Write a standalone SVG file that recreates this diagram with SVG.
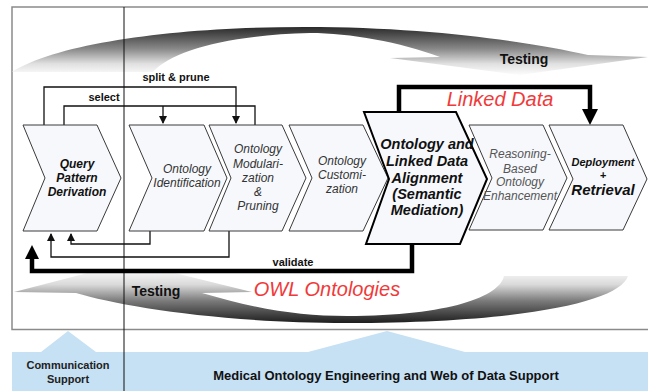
<svg xmlns="http://www.w3.org/2000/svg" width="648" height="391" viewBox="0 0 648 391">
<style>
text{font-family:"Liberation Sans",Arial,sans-serif}
.chev{fill:#f6f8fc;stroke:#3a3a3a;stroke-width:1}
.big{fill:#f6f8fc;stroke:#000;stroke-width:2}
.it{font-style:italic;font-size:12px;fill:#333;text-anchor:middle}
.bi{font-style:italic;font-weight:bold;fill:#111;text-anchor:middle}
.lbl{font-size:11px;font-weight:bold;fill:#111;text-anchor:middle}
.red{font-style:italic;font-size:20px;fill:#f03a3a;text-anchor:middle}
.thin{fill:none;stroke:#111;stroke-width:1.3}
.thick{fill:none;stroke:#000;stroke-width:4.5}
</style>
<defs>
<linearGradient id="gTop" gradientUnits="userSpaceOnUse" x1="0" y1="27" x2="0" y2="76">
<stop offset="0" stop-color="#2a2a2a"/>
<stop offset="0.45" stop-color="#8a8a8a"/>
<stop offset="0.75" stop-color="#e0e0e0"/>
<stop offset="1" stop-color="#ffffff"/>
</linearGradient>
<linearGradient id="gBot" gradientUnits="userSpaceOnUse" x1="0" y1="323" x2="0" y2="268">
<stop offset="0" stop-color="#1e1e1e"/>
<stop offset="0.4" stop-color="#7a7a7a"/>
<stop offset="0.7" stop-color="#dadada"/>
<stop offset="1" stop-color="#ffffff"/>
</linearGradient>
<marker id="ah" markerWidth="8" markerHeight="8" refX="7" refY="4" orient="auto" markerUnits="userSpaceOnUse">
<path d="M0,0 L8,4 L0,8 Z" fill="#111"/>
</marker>
</defs>

<g id="support">
<path d="M12,352 H41 L68,331 L96,352 H308 L387,331 L465,352 H648 V391 H12 Z" fill="#c6e0f4"/>
<text x="68" y="369" font-size="11" font-weight="bold" fill="#222" text-anchor="middle">Communication</text>
<text x="68" y="383" font-size="11" font-weight="bold" fill="#222" text-anchor="middle">Support</text>
<text x="386" y="380" font-size="13" font-weight="bold" fill="#111" text-anchor="middle">Medical Ontology Engineering and Web of Data Support</text>
</g>

<g id="frame">
<path d="M648,7 H12 V329.5 H648" fill="none" stroke="#8a8a8a" stroke-width="1.5"/>
</g>

<g id="testing-top">
<path d="M12,72 C60,42 180,27 305,27 C430,27 530,42 588,55 L648,57 L520,75 L390,58 L440,57 C400,42 350,33 310,33 C230,35 172,50 153,72 Z" fill="url(#gTop)"/>
<text x="524" y="64" font-size="14" font-weight="bold" fill="#111" text-anchor="middle">Testing</text>
</g>

<g id="testing-bottom">
<path d="M628,276 C620,302 520,323 347,323 C220,323 120,306 76,293 L14,292 L130,262 L252,292 L202,293 C260,310 300,316 347,316 C450,316 500,296 504,276 Z" fill="url(#gBot)"/>
<text x="156" y="296" font-size="14" font-weight="bold" fill="#111" text-anchor="middle">Testing</text>
<text x="327" y="296" class="red">OWL Ontologies</text>
</g>

<line x1="124" y1="7" x2="124" y2="391" stroke="#111" stroke-width="1"/>

<g id="connectors">
<path class="thin" d="M44,125 V87 H236 V123" marker-end="url(#ah)"/>
<path class="thin" d="M64,143 V106 H255 V142" marker-end="url(#ah)"/>
<path class="thin" d="M163,106 V123" marker-end="url(#ah)"/>
<path class="thin" d="M150,231 V244 H71 V234" marker-end="url(#ah)"/>
<path class="thin" d="M229,231 V257 H51 V234" marker-end="url(#ah)"/>
<path class="thick" d="M412,244 V271 H32 V258"/>
<path d="M25,259 L32,245 L39,259 Z" fill="#000"/>
<path class="thick" d="M399,112 V87 H590 V110" stroke-width="5"/>
<path d="M582,109 L590,125 L598,109 Z" fill="#000"/>
<text x="176" y="81" class="lbl">split &amp; prune</text>
<text x="104" y="101" class="lbl">select</text>
<text x="293" y="266" class="lbl">validate</text>
<text x="500" y="106" class="red">Linked Data</text>
</g>

<g id="query">
<path class="chev" d="M23,125 H97 L121,178 L97,231 H23 L45,178 Z"/>
<text class="bi" font-size="12"><tspan x="77" y="168">Query</tspan><tspan x="77" y="182">Pattern</tspan><tspan x="77" y="196">Derivation</tspan></text>
</g>
<g id="identification">
<path class="chev" d="M129,125 H204 L227,178 L204,231 H129 L152,178 Z"/>
<text class="it"><tspan x="187" y="173">Ontology</tspan><tspan x="187" y="187">Identification</tspan></text>
</g>
<g id="modularization">
<path class="chev" d="M209,125 H282 L306,178 L282,231 H209 L231,178 Z"/>
<text class="it"><tspan x="258" y="153">Ontology</tspan><tspan x="258" y="168">Modulari-</tspan><tspan x="258" y="182">zation</tspan><tspan x="258" y="196">&amp;</tspan><tspan x="258" y="210">Pruning</tspan></text>
</g>
<g id="customization">
<path class="chev" d="M289,125 H363 L388,178 L363,231 H289 L312,178 Z"/>
<text class="it"><tspan x="342" y="165">Ontology</tspan><tspan x="342" y="179">Customi-</tspan><tspan x="342" y="193">zation</tspan></text>
</g>
<g id="alignment">
<path class="big" d="M364,112 H456 L487,179 L460,244 H366 L389,179 Z"/>
<text class="bi" font-size="14.5"><tspan x="427" y="149">Ontology and</tspan><tspan x="427" y="166">Linked Data</tspan><tspan x="427" y="183">Alignment</tspan><tspan x="427" y="199">(Semantic</tspan><tspan x="427" y="215">Mediation)</tspan></text>
</g>
<g id="reasoning">
<path class="chev" d="M469,125 H543 L567,178 L543,230 H469 L492,178 Z"/>
<text class="it" style="fill:#555"><tspan x="520" y="158">Reasoning-</tspan><tspan x="520" y="173">Based</tspan><tspan x="520" y="186">Ontology</tspan><tspan x="520" y="200">Enhancement</tspan></text>
</g>
<g id="deployment">
<path class="chev" d="M549,125 H623 L647,179 L623,230 H549 L573,179 Z"/>
<text class="bi" font-size="11"><tspan x="603" y="166">Deployment</tspan><tspan x="603" y="179">+</tspan></text>
<text class="bi" font-size="15" x="603" y="195">Retrieval</text>
</g>
</svg>
